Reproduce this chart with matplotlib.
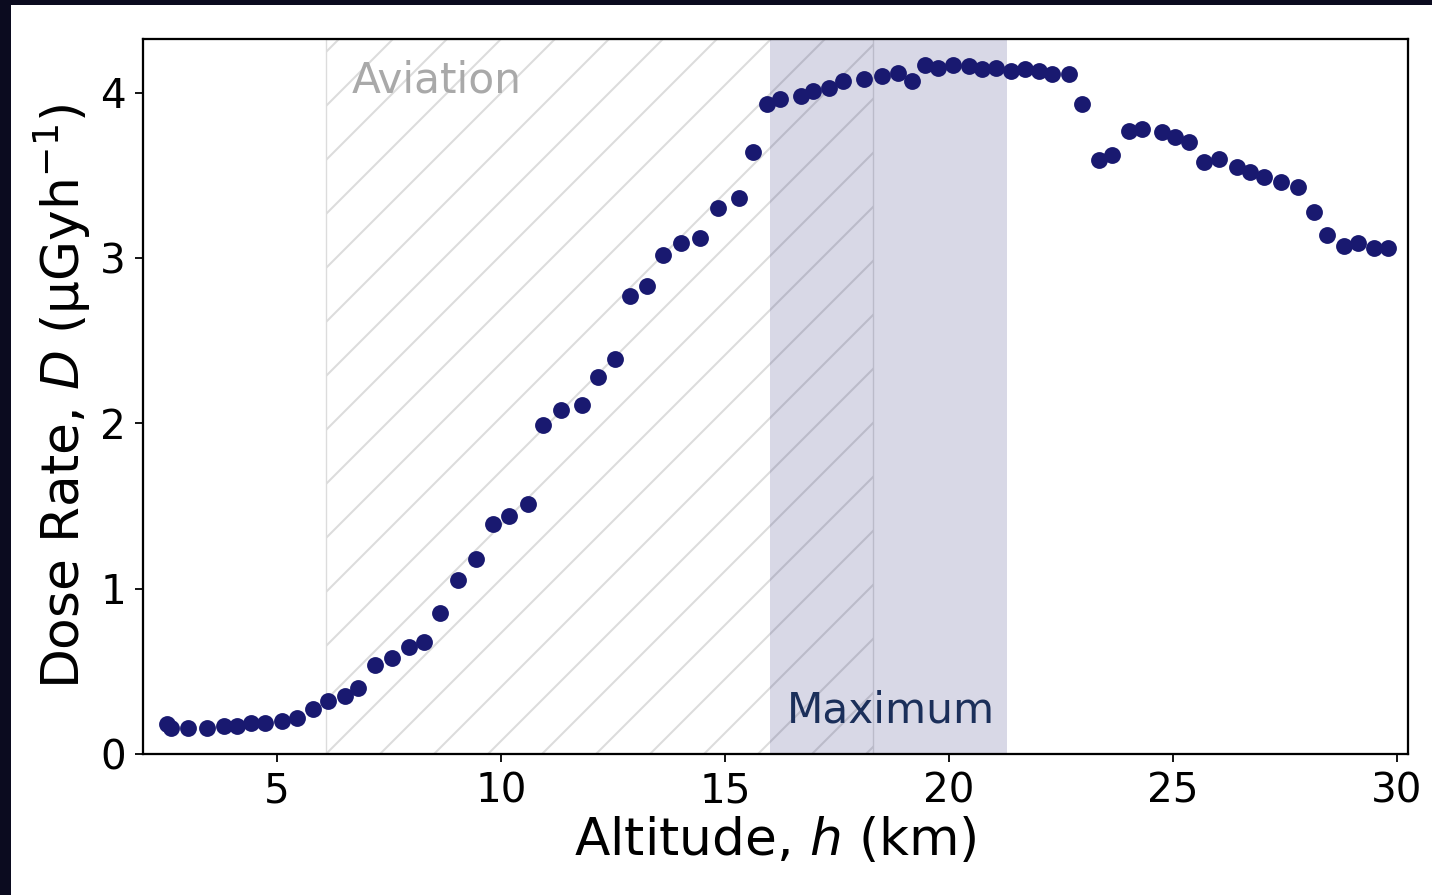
import matplotlib
matplotlib.use('Agg')
import matplotlib.pyplot as plt
from matplotlib.patches import Rectangle

# ---- data ----
altitude_km = [2.55, 2.63, 3.01, 3.44, 3.82, 4.11, 4.42, 4.73, 5.11, 5.45,
               5.80, 6.14, 6.52, 6.81, 7.19, 7.57, 7.94, 8.28, 8.64, 9.04,
               9.44, 9.82, 10.18, 10.60, 10.93, 11.34, 11.80, 12.16, 12.54, 12.88,
               13.25, 13.61, 14.01, 14.44, 14.84, 15.31, 15.62, 15.95, 16.22, 16.69,
               16.96, 17.32, 17.63, 18.10, 18.50, 18.86, 19.17, 19.46, 19.75, 20.10,
               20.44, 20.73, 21.06, 21.38, 21.69, 22.02, 22.29, 22.67, 22.96, 23.34,
               23.63, 24.01, 24.32, 24.75, 25.04, 25.35, 25.70, 26.02, 26.42, 26.73,
               27.04, 27.42, 27.80, 28.14, 28.45, 28.81, 29.14, 29.48, 29.81]
dose_rate = [0.18, 0.16, 0.16, 0.16, 0.17, 0.17, 0.19, 0.19, 0.20, 0.22,
             0.27, 0.32, 0.35, 0.40, 0.54, 0.58, 0.65, 0.68, 0.85, 1.05,
             1.18, 1.39, 1.44, 1.51, 1.99, 2.08, 2.11, 2.28, 2.39, 2.77,
             2.83, 3.02, 3.09, 3.12, 3.30, 3.36, 3.64, 3.93, 3.96, 3.98,
             4.01, 4.03, 4.07, 4.08, 4.10, 4.12, 4.07, 4.17, 4.15, 4.17,
             4.16, 4.14, 4.15, 4.13, 4.14, 4.13, 4.11, 4.11, 3.93, 3.59,
             3.62, 3.77, 3.78, 3.76, 3.73, 3.70, 3.58, 3.60, 3.55, 3.52,
             3.49, 3.46, 3.43, 3.28, 3.14, 3.07, 3.09, 3.06, 3.06]
aviation_range = (6.1, 18.3)
maximum_range = (16.0, 21.3)
x_ticks = [5, 10, 15, 20, 25, 30]
y_ticks = [0, 1, 2, 3, 4]

DPI = 324
W, H = 1432, 895
plt.rcParams['hatch.linewidth'] = 0.45

fig = plt.figure(figsize=((W + 0.1) / DPI, (H + 0.1) / DPI), dpi=DPI,
                 facecolor='#0b0b1f')
fig.patches.append(Rectangle((11 / W, 0), 1, 1 - 5 / H, transform=fig.transFigure,
                             facecolor='white', edgecolor='none', zorder=-10))

ax = fig.add_axes([143 / W, 1 - 754 / H, (1408 - 143) / W, (754 - 39) / H])
ax.set_zorder(1)
ax.set_facecolor('white')

ax.axvspan(*aviation_range, facecolor='none', edgecolor='#dcdcdc', hatch='//',
           linewidth=0.3, zorder=0.5)
ax.axvspan(*maximum_range, facecolor='midnightblue', alpha=0.17, linewidth=0,
           zorder=0.6)

ax.scatter(altitude_km, dose_rate, s=14, color='midnightblue', linewidths=0,
           zorder=3)

ax.text(6.67, 4.0, 'Aviation', fontsize=9.4, color='darkgray', va='baseline',
        ha='left')
ax.text(16.38, 0.19, 'Maximum', fontsize=9.4, color='#1b2f5a', va='baseline',
        ha='left')

ax.set_xlim(2.01, 30.25)
ax.set_ylim(0, 4.325)
ax.set_xticks(x_ticks)
ax.set_yticks(y_ticks)
ax.tick_params(labelsize=9, length=1.8, width=0.4, pad=2)
for sp in ax.spines.values():
    sp.set_linewidth(0.5)

ax.set_xlabel('Altitude, $h$ (km)', fontsize=11.5, labelpad=1)
ax.set_ylabel('Dose Rate, $D$ (μGyh$^{-1}$)', fontsize=11.5, labelpad=1.5)

fig.savefig('out.png', dpi=DPI, facecolor=fig.get_facecolor())
